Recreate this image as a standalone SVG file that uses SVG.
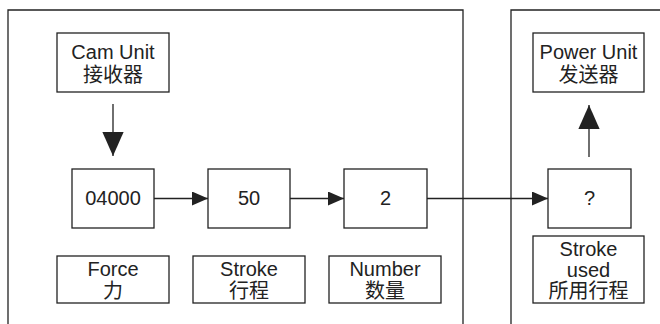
<svg xmlns="http://www.w3.org/2000/svg" width="660" height="324" viewBox="0 0 660 324">
<style>
.box{fill:#fff;stroke:#222;stroke-width:1.3}
.panel{fill:none;stroke:#222;stroke-width:1.3}
.t{font-family:"Liberation Sans","Noto Sans CJK SC",Arial,sans-serif;font-size:20px;fill:#222;text-anchor:middle}
.c{stroke:#222;stroke-width:1.3;fill:none}
</style>
<defs>
<marker id="big" markerUnits="userSpaceOnUse" markerWidth="24" markerHeight="27" refX="26" refY="11.5" orient="auto" viewBox="0 0 26 23"><path d="M0,0 L26,11.5 L0,23 Z" fill="#222"/></marker>
<marker id="sm" markerUnits="userSpaceOnUse" markerWidth="16" markerHeight="14" refX="16" refY="7" orient="auto" viewBox="0 0 16 14"><path d="M0,0 L16,7 L0,14 Z" fill="#222"/></marker>
</defs>
<g id="panels">
<path class="panel" d="M8,324 V10 H463 V324"/>
<path class="panel" d="M511,324 V10 H660"/>
</g>
<g id="connectors">
<line class="c" x1="113" y1="104" x2="113" y2="156" marker-end="url(#big)"/>
<line class="c" x1="154" y1="198.5" x2="208" y2="198.5" marker-end="url(#sm)"/>
<line class="c" x1="290" y1="198.5" x2="344" y2="198.5" marker-end="url(#sm)"/>
<line class="c" x1="427" y1="198.5" x2="548" y2="198.5" marker-end="url(#sm)"/>
<line class="c" x1="589" y1="157" x2="589" y2="105" marker-end="url(#big)"/>
</g>
<g id="cam-unit">
<rect class="box" x="57" y="33" width="112" height="59"/>
<text class="t" x="113" y="59">Cam Unit</text>
<text class="t" x="113" y="82">接收器</text>
</g>
<g id="power-unit">
<rect class="box" x="533" y="33" width="111" height="59"/>
<text class="t" x="588.5" y="59">Power Unit</text>
<text class="t" x="588.5" y="82">发送器</text>
</g>
<g id="n04000">
<rect class="box" x="72" y="169" width="82" height="59"/>
<text class="t" x="113" y="205">04000</text>
</g>
<g id="n50">
<rect class="box" x="208" y="169" width="82" height="59"/>
<text class="t" x="249" y="205">50</text>
</g>
<g id="n2">
<rect class="box" x="344" y="169" width="83" height="59"/>
<text class="t" x="385.5" y="205">2</text>
</g>
<g id="nq">
<rect class="box" x="548" y="169" width="83" height="59"/>
<text class="t" x="589.5" y="205">?</text>
</g>
<g id="force">
<rect class="box" x="57" y="256" width="112" height="47"/>
<text class="t" x="113" y="276">Force</text>
<text class="t" x="113" y="298">力</text>
</g>
<g id="stroke">
<rect class="box" x="193" y="256" width="112" height="47"/>
<text class="t" x="249" y="276">Stroke</text>
<text class="t" x="249" y="298">行程</text>
</g>
<g id="number">
<rect class="box" x="329" y="256" width="112" height="47"/>
<text class="t" x="385" y="276">Number</text>
<text class="t" x="385" y="298">数量</text>
</g>
<g id="stroke-used">
<rect class="box" x="533" y="236" width="111" height="67"/>
<text class="t" x="588.5" y="256">Stroke</text>
<text class="t" x="588.5" y="277">used</text>
<text class="t" x="588.5" y="298">所用行程</text>
</g>
</svg>
